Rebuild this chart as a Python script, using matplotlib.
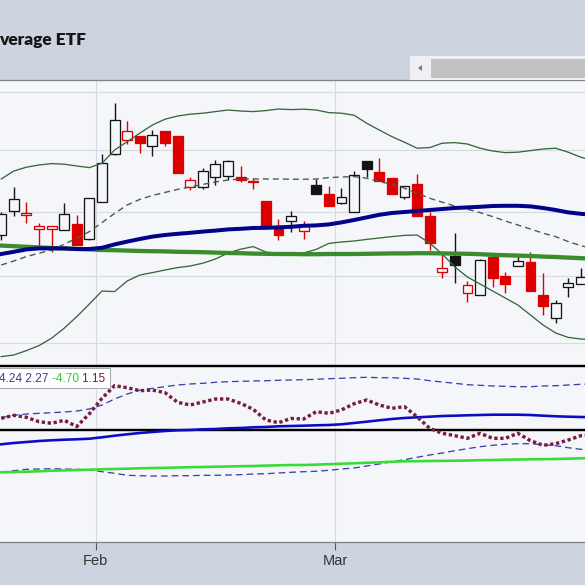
import matplotlib
matplotlib.use("Agg")
import matplotlib.pyplot as plt
from matplotlib.patches import Rectangle, Polygon

plt.rcParams['lines.scale_dashes'] = False

# ---------------- daily price bars ----------------
opens = [42.85, 44.05, 43.83, 43.14, 43.17, 43.12, 43.38, 42.63, 44.50, 46.90,
         47.62, 47.78, 47.32, 48.05, 47.80, 45.27, 45.26, 45.76, 45.80, 45.75,
         45.57, 44.53, 43.30, 43.56, 43.07, 45.35, 44.92, 44.43, 44.01, 46.53,
         46.02, 45.72, 44.76, 45.40, 43.80, 41.02, 41.81, 39.93, 39.85, 41.76,
         40.80, 41.31, 41.51, 39.86, 38.68, 40.23, 40.42]
highs = [44.00, 45.25, 44.50, 43.47, 43.30, 44.47, 43.87, 44.72, 46.92, 49.47,
         48.57, 47.80, 48.11, 48.07, 47.80, 45.77, 46.18, 46.58, 46.60, 46.30,
         45.71, 44.55, 43.63, 44.05, 43.55, 45.67, 45.32, 45.21, 46.05, 46.53,
         46.68, 45.72, 45.30, 45.91, 44.00, 42.07, 42.96, 40.57, 41.67, 41.97,
         41.01, 41.92, 42.01, 40.93, 39.61, 40.68, 41.18]
lows = [42.60, 43.80, 43.45, 42.20, 42.00, 43.12, 42.35, 42.60, 44.50, 46.87,
        47.40, 46.95, 46.81, 47.32, 45.95, 45.10, 45.13, 45.35, 45.60, 45.50,
        45.13, 43.30, 42.62, 43.00, 42.65, 44.88, 44.30, 44.38, 44.01, 45.76,
        45.56, 44.88, 44.65, 43.80, 42.10, 40.72, 40.46, 39.51, 39.85, 40.26,
        39.93, 41.31, 40.03, 38.87, 38.46, 39.77, 40.42]
closes = [43.90, 44.65, 43.95, 43.32, 43.28, 43.88, 42.35, 44.70, 46.47, 48.60,
          48.05, 47.46, 47.85, 47.46, 45.95, 45.60, 46.05, 46.40, 46.57, 45.60,
          45.50, 43.31, 42.85, 43.82, 43.35, 44.88, 44.30, 44.75, 45.83, 46.13,
          45.56, 44.88, 45.30, 43.80, 42.43, 41.22, 41.35, 40.36, 41.58, 40.68,
          40.40, 41.55, 40.03, 39.28, 39.47, 40.45, 40.73]
prior_close = 43.50

# ---------------- price overlays ----------------
bb_upper = [45.65, 46.05, 46.24, 46.35, 46.42, 46.39, 46.30, 46.22, 46.44, 47.10,
            47.52, 47.94, 48.35, 48.64, 48.80, 48.89, 48.94, 49.02, 49.10, 49.05,
            49.02, 49.07, 49.15, 49.12, 49.14, 49.10, 48.97, 48.94, 48.84, 48.44,
            48.10, 47.77, 47.49, 47.19, 47.22, 47.44, 47.47, 47.40, 47.19, 47.05,
            46.97, 46.99, 47.07, 47.15, 47.19, 46.99, 46.74, 46.55]
bb_middle = [41.35, 41.55, 41.77, 41.94, 42.10, 42.39, 42.69, 43.02, 43.47, 43.93,
             44.35, 44.63, 44.83, 44.98, 45.13, 45.25, 45.38, 45.50, 45.60, 45.65,
             45.65, 45.65, 45.65, 45.64, 45.64, 45.65, 45.72, 45.75, 45.77, 45.69,
             45.52, 45.39, 45.19, 44.94, 44.69, 44.49, 44.30, 44.14, 43.97, 43.77,
             43.55, 43.35, 43.15, 42.94, 42.77, 42.52, 42.32, 42.15]
bb_lower = [36.77, 36.85, 37.07, 37.32, 37.69, 38.19, 38.77, 39.40, 40.05, 40.02,
            40.55, 40.85, 40.97, 41.10, 41.22, 41.30, 41.44, 41.65, 41.95, 42.14,
            42.27, 42.00, 41.90, 41.90, 41.95, 42.13, 42.43, 42.50, 42.55, 42.63,
            42.70, 42.77, 42.83, 42.85, 42.45, 41.90, 41.25, 40.75, 40.40, 40.05,
            39.70, 39.35, 38.85, 38.35, 37.95, 37.73, 37.65, 37.62]
sma_50 = [41.90, 42.01, 42.13, 42.18, 42.18, 42.18, 42.15, 42.15, 42.21, 42.38,
          42.52, 42.65, 42.77, 42.85, 42.91, 42.96, 43.02, 43.07, 43.13, 43.16,
          43.20, 43.21, 43.23, 43.26, 43.31, 43.33, 43.38, 43.48, 43.60, 43.73,
          43.86, 43.95, 44.00, 44.05, 44.10, 44.15, 44.20, 44.23, 44.26, 44.30,
          44.31, 44.31, 44.28, 44.20, 44.10, 43.98, 43.91, 43.85]
sma_200 = [42.32, 42.29, 42.26, 42.23, 42.20, 42.18, 42.15, 42.13, 42.10, 42.09,
           42.07, 42.05, 42.04, 42.03, 42.01, 42.00, 41.99, 41.97, 41.95, 41.94,
           41.92, 41.91, 41.90, 41.90, 41.89, 41.89, 41.90, 41.90, 41.90, 41.91,
           41.92, 41.93, 41.93, 41.94, 41.94, 41.93, 41.92, 41.91, 41.89, 41.86,
           41.84, 41.82, 41.80, 41.77, 41.75, 41.72, 41.69, 41.66]

# ---------------- indicator panel ----------------
osc = [1.17, 1.47, 1.27, 0.83, 0.67, 0.97, 0.35, 1.63, 3.17, 4.43,
       4.23, 3.93, 4.00, 3.73, 2.77, 2.50, 2.80, 3.10, 3.10, 2.67,
       2.07, 1.00, 0.73, 1.15, 1.10, 1.83, 1.67, 2.00, 2.63, 3.00,
       2.50, 2.17, 2.33, 1.33, 0.17, -0.33, -0.57, -0.83, -0.33, -0.83,
       -0.83, -0.33, -1.07, -1.53, -1.37, -1.00, -0.57, -0.50]
osc_upper = [1.23, 1.47, 1.60, 1.67, 1.73, 1.80, 1.90, 2.10, 2.50, 3.10,
             3.60, 3.97, 4.17, 4.33, 4.50, 4.60, 4.67, 4.77, 4.83, 4.87,
             4.90, 4.93, 4.97, 5.00, 5.03, 5.07, 5.13, 5.17, 5.23, 5.27,
             5.23, 5.23, 5.17, 5.10, 4.93, 4.80, 4.67, 4.53, 4.47, 4.40,
             4.37, 4.33, 4.33, 4.40, 4.43, 4.50, 4.57, 4.60]
osc_lower = [-4.23, -4.07, -3.93, -3.90, -3.87, -3.90, -3.93, -4.00, -4.17, -4.33,
             -4.53, -4.57, -4.60, -4.60, -4.57, -4.57, -4.53, -4.53, -4.50, -4.47,
             -4.40, -4.37, -4.30, -4.23, -4.17, -4.13, -4.03, -3.90, -3.80, -3.60,
             -3.40, -3.17, -2.97, -2.73, -2.50, -2.30, -2.07, -1.87, -1.67, -1.53,
             -1.43, -1.37, -1.37, -1.47, -1.57, -1.77, -1.93, -2.00]
osc_avg = [-1.43, -1.30, -1.20, -1.10, -1.03, -0.97, -0.93, -0.87, -0.73, -0.57,
           -0.43, -0.30, -0.20, -0.10, -0.03, 0.00, 0.07, 0.10, 0.17, 0.20,
           0.27, 0.30, 0.37, 0.40, 0.43, 0.47, 0.50, 0.57, 0.70, 0.83,
           0.97, 1.10, 1.20, 1.27, 1.33, 1.40, 1.43, 1.47, 1.50, 1.53,
           1.53, 1.53, 1.50, 1.43, 1.37, 1.33, 1.30, 1.28]
osc_long = [-4.23, -4.20, -4.17, -4.13, -4.07, -4.04, -4.00, -3.97, -3.93, -3.90,
            -3.87, -3.83, -3.80, -3.78, -3.75, -3.72, -3.70, -3.67, -3.65, -3.62,
            -3.60, -3.56, -3.53, -3.50, -3.50, -3.46, -3.42, -3.37, -3.33, -3.28,
            -3.23, -3.18, -3.13, -3.12, -3.10, -3.09, -3.07, -3.05, -3.02, -3.00,
            -2.97, -2.95, -2.93, -2.92, -2.90, -2.87, -2.83, -2.80]
osc_levels = [6.4, 0.0]
legend_texts = ["4.24 2.27", "-4.70", "1.15"]

month_ticks = [7.5, 26.5]
month_labels = ["Feb", "Mar"]
price_grid = [50.0, 47.1, 44.0, 40.8, 37.45]
title_text = "verage ETF"

# ---------------- styling ----------------
PX = 0.72                      # points per pixel at 100 dpi
BG = '#cdd3df'
PANEL = '#f5f6fa'
GRID = '#d5d9e0'
RED = '#dc0000'
INK = '#141414'
BORDER = '#7d838d'
SANS = ['Liberation Sans', 'DejaVu Sans']
TITLE_FONT = ['Lato', 'DejaVu Sans']


def yfrac(px):
    return 1 - px / 585.0


fig = plt.figure(figsize=(5.85, 5.85), dpi=100, facecolor=BG)
ax = fig.add_axes([0, yfrac(365.5), 1, (365.5 - 80) / 585])
axi = fig.add_axes([0, yfrac(541.5), 1, (541.5 - 365.5) / 585], sharex=ax)

for a in (ax, axi):
    a.set_facecolor(PANEL)
    for s in a.spines.values():
        s.set_visible(False)
    for gx in month_ticks:
        a.axvline(gx, color=GRID, lw=1.1 * PX, zorder=0)

ax.spines['top'].set_visible(True)
ax.spines['top'].set_color(BORDER)
ax.spines['top'].set_linewidth(1.3 * PX)
axi.spines['bottom'].set_visible(True)
axi.spines['bottom'].set_color(BORDER)
axi.spines['bottom'].set_linewidth(1.3 * PX)

ax.set_xlim(-0.095, 46.33)
ax.set_ylim(36.325, 50.6)
axi.set_ylim(-11.15, 6.45)

for g in price_grid:
    ax.axhline(g, color=GRID, lw=1.1 * PX, zorder=0)

ax.tick_params(left=False, labelleft=False, bottom=False, labelbottom=False)
axi.set_yticks([])
axi.set_xticks(month_ticks)
axi.set_xticklabels(month_labels, family=SANS, fontsize=10.5, color='#333333')
axi.tick_params(axis='x', length=8 * PX, width=1.1 * PX, color='#555555',
                pad=3.2, direction='out')

# candlesticks: black = close above prior close, red = below;
# filled when the close is under the open
body_w = 0.78
prev = prior_close
for i, (o, h, l, c) in enumerate(zip(opens, highs, lows, closes)):
    col = INK if c >= prev else RED
    filled = c < o
    ax.vlines(i, l, h, color=col, lw=1.4 * PX, zorder=2)
    lo, hi = min(o, c), max(o, c)
    ax.add_patch(Rectangle((i - body_w / 2, lo), body_w, max(hi - lo, 0.04),
                           facecolor=col if filled else PANEL,
                           edgecolor=col, lw=1.3 * PX, zorder=3))
    prev = c

xs = range(len(bb_upper))
ax.plot(xs, bb_upper, color='#35663a', lw=1.3 * PX, zorder=4)
ax.plot(xs, bb_lower, color='#35663a', lw=1.3 * PX, zorder=4)
ax.plot(xs, bb_middle, color='#4d5c50', lw=1.4 * PX, dashes=(4.3, 2.9), zorder=4)
ax.plot(xs, sma_200, color='#3a8c2c', lw=4.3 * PX, zorder=5)
ax.plot(xs, sma_50, color='#02028a', lw=4.0 * PX, zorder=5)

# indicator panel
for lv in osc_levels:
    axi.axhline(lv, color='black', lw=2.4 * PX, zorder=3, clip_on=False)
axi.plot(xs, osc_upper, color='#3d3dae', lw=1.3 * PX, dashes=(4.8, 2.9), zorder=4)
axi.plot(xs, osc_lower, color='#3d3dae', lw=1.3 * PX, dashes=(4.8, 2.9), zorder=4)
axi.plot(xs, osc_long, color='#38dc38', lw=2.6 * PX, zorder=4)
axi.plot(xs, osc_avg, color='#0c0cc4', lw=2.6 * PX, zorder=4)
axi.plot(xs, osc, color='#7b1d3e', lw=3.4 * PX, dashes=(2.4, 1.9),
         dash_capstyle='butt', zorder=5)

# value legend box in the indicator panel
fig.add_artist(Rectangle((-1 / 585, yfrac(387.5)), 111 / 585, 19.5 / 585,
                         transform=fig.transFigure, facecolor='white',
                         edgecolor='#a8abb2', lw=1.0 * PX, zorder=10))
renderer = fig.canvas.get_renderer()
xpos = -1.0
for txt, col in zip(legend_texts, ['#3d3d8e', '#33cc33', '#7b1d3e']):
    t = fig.text(xpos / 585, yfrac(382.5), txt + ' ', color=col, fontsize=8.6,
                 family=SANS, va='baseline', ha='left', zorder=11)
    xpos += t.get_window_extent(renderer).width

# title and scroll control in the header band
fig.text(-1 / 585, yfrac(45), title_text, fontsize=12.5, weight='heavy',
         family=TITLE_FONT, color='#161616', va='baseline', ha='left')
fig.add_artist(Rectangle((410 / 585, yfrac(80)), 175 / 585, 24 / 585,
                         transform=fig.transFigure, facecolor='#eef0f4',
                         edgecolor='none', zorder=5))
fig.add_artist(Rectangle((431 / 585, yfrac(77.5)), 154 / 585, 18.5 / 585,
                         transform=fig.transFigure, facecolor='#c2c2c2',
                         edgecolor='none', zorder=6))
fig.add_artist(Polygon([(418 / 585, yfrac(68)), (422 / 585, yfrac(65)),
                        (422 / 585, yfrac(71))], closed=True,
                       transform=fig.transFigure, facecolor='#7a7a7a',
                       edgecolor='none', zorder=6))

fig.savefig('out.png', dpi=100, facecolor=BG)
